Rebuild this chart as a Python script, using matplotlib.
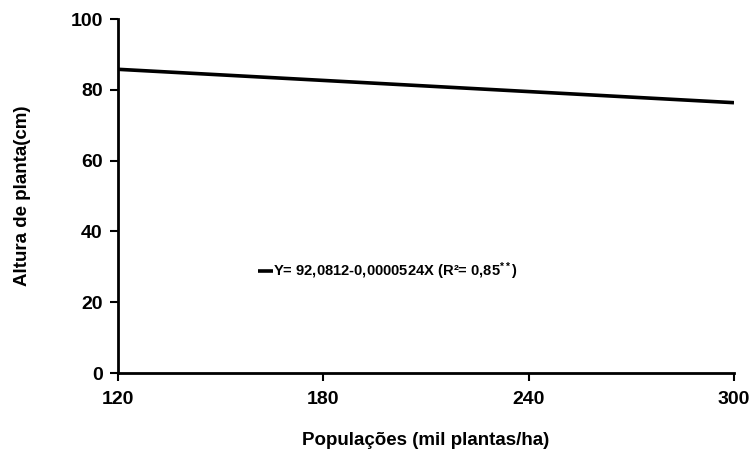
import matplotlib
matplotlib.use("Agg")
import matplotlib.pyplot as plt

# Plant population (thousand plants/ha) and fitted plant height (cm)
populations = [120, 180, 240, 300]
heights = [85.79, 82.65, 79.50, 76.36]

x_ticks = [120, 180, 240, 300]
y_ticks = [0, 20, 40, 60, 80, 100]

equation_label = "Y= 92,0812-0,0000524X (R²= 0,85$^{**}$)"
x_label = "Populações (mil plantas/ha)"
y_label = "Altura de planta(cm)"

plt.rcParams["font.family"] = ["Liberation Sans", "DejaVu Sans"]
plt.rcParams["font.weight"] = "bold"
plt.rcParams["mathtext.fontset"] = "custom"
plt.rcParams["mathtext.rm"] = "Liberation Sans:bold"
plt.rcParams["mathtext.it"] = "Liberation Sans:bold"
plt.rcParams["mathtext.bf"] = "Liberation Sans:bold"

fig = plt.figure(figsize=(7.55, 4.49), dpi=100)
ax = fig.add_axes([118 / 755, 1 - 373 / 449, (734 - 118) / 755, (373 - 19) / 449])

ax.plot(populations, heights, color="black", linewidth=2.6,
        solid_capstyle="butt", label=equation_label)

ax.set_xlim(120, 300)
ax.set_ylim(0, 100)
ax.set_xticks(x_ticks)
ax.set_yticks(y_ticks)

for side in ("top", "right"):
    ax.spines[side].set_visible(False)
for side in ("left", "bottom"):
    ax.spines[side].set_linewidth(2.0)

ax.tick_params(axis="both", direction="out", length=6, width=1.5,
               labelsize=14)
ax.tick_params(axis="x", pad=7)
ax.tick_params(axis="y", pad=5)
for lbl in ax.get_xticklabels() + ax.get_yticklabels():
    lbl.set_fontweight("bold")

ax.set_xlabel(x_label, fontsize=13.5, fontweight="bold", labelpad=17)
ax.set_ylabel(y_label, fontsize=13.5, fontweight="bold", labelpad=28)

leg = ax.legend(loc="center left", bbox_to_anchor=(140 / 616, (373 - 271) / 354),
                bbox_transform=ax.transAxes, frameon=False,
                handlelength=1.0, handletextpad=0.05, borderpad=0,
                borderaxespad=0, prop={"weight": "bold", "size": 10.6})

fig.savefig("out.png", dpi=100)
